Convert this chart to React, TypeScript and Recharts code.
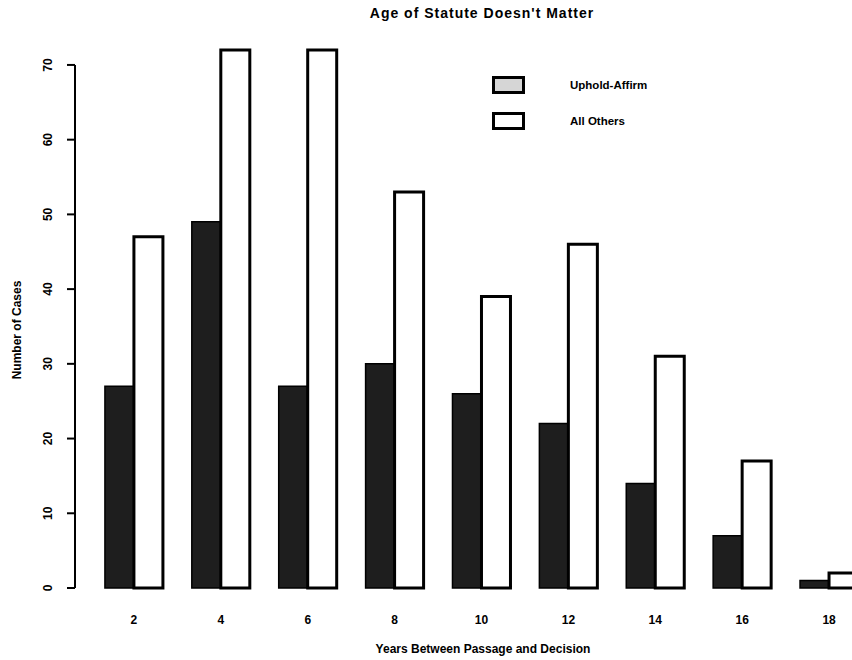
import React from 'react';
import { BarChart, Bar, XAxis, YAxis, Legend, ReferenceLine } from 'recharts';

const years = ['2', '4', '6', '8', '10', '12', '14', '16', '18'];
const upholdAffirm = [27, 49, 27, 30, 26, 22, 14, 7, 1];
const allOthers = [47, 72, 72, 53, 39, 46, 31, 17, 2];
const yTicks = [0, 10, 20, 30, 40, 50, 60, 70];
const seriesNames = ['Uphold-Affirm', 'All Others'];
const titleText = "Age of Statute Doesn't Matter";
const xTitle = 'Years Between Passage and Decision';
const yTitle = 'Number of Cases';

const data = years.map((y, i) => ({ year: y, uphold: upholdAffirm[i], others: allOthers[i] }));

const FONT = '"Liberation Sans", Arial, Helvetica, sans-serif';

const YTick = (props: any) => {
  const { x, y, payload } = props;
  return (
    <g>
      <line x1={x} x2={x + 8} y1={y} y2={y} stroke="#000" strokeWidth={2} />
      <text
        x={48}
        y={y}
        transform={`rotate(-90, 48, ${y})`}
        textAnchor="middle"
        dominantBaseline="central"
        fontFamily={FONT}
        fontWeight="bold"
        fontSize={12}
        fill="#000"
      >
        {payload.value}
      </text>
    </g>
  );
};

const XTick = (props: any) => {
  const { x, payload } = props;
  return (
    <text x={x} y={624} textAnchor="middle" fontFamily={FONT} fontWeight="bold" fontSize={12} fill="#000">
      {payload.value}
    </text>
  );
};

const LegendBox = () => (
  <svg width={200} height={60} style={{ display: 'block' }}>
    <rect x={1.5} y={1.5} width={30} height={15} fill="#d6d6d6" stroke="#000" strokeWidth={3} />
    <text x={78} y={9} dominantBaseline="central" fontFamily={FONT} fontWeight="bold" fontSize={11.5} fill="#000">
      {seriesNames[0]}
    </text>
    <rect x={1.5} y={37.5} width={30} height={15} fill="#fff" stroke="#000" strokeWidth={3} />
    <text x={78} y={45} dominantBaseline="central" fontFamily={FONT} fontWeight="bold" fontSize={11.5} fill="#000">
      {seriesNames[1]}
    </text>
  </svg>
);

export default function App() {
  return (
    <div style={{ position: 'absolute', left: 0, top: 0, width: 852, height: 660, overflow: 'hidden', background: '#fff' }}>
      <div
        style={{
          position: 'absolute',
          left: 0,
          top: 5,
          width: 964,
          textAlign: 'center',
          fontFamily: FONT,
          fontWeight: 'bold',
          fontSize: 14,
          letterSpacing: 1,
          color: '#000',
          lineHeight: '16px',
        }}
      >
        {titleText}
      </div>
      <div style={{ position: 'absolute', left: 0, top: 0 }}>
        <BarChart
          width={880}
          height={660}
          data={data}
          margin={{ top: 50, right: 7.5, bottom: 0, left: 0 }}
          barCategoryGap="16.6%"
          barGap={0}
        >
          <XAxis
            dataKey="year"
            height={72}
            axisLine={false}
            tickLine={false}
            padding={{ left: 15.5, right: 0 }}
            tick={<XTick />}
            interval={0}
            label={{
              content: (p: any) => (
                <text
                  x={483}
                  y={653}
                  textAnchor="middle"
                  fontFamily={FONT}
                  fontWeight="bold"
                  fontSize={12}
                  fill="#000"
                >
                  {xTitle}
                </text>
              ),
            }}
          />
          <XAxis xAxisId="line" type="number" domain={[0, 1]} hide />
          <YAxis
            width={75}
            domain={[0, 72]}
            ticks={yTicks}
            axisLine={false}
            tickLine={false}
            tick={<YTick />}
            interval={0}
            label={{
              content: (p: any) => (
                <text
                  x={17}
                  y={330}
                  transform="rotate(-90, 17, 330)"
                  textAnchor="middle"
                  dominantBaseline="central"
                  fontFamily={FONT}
                  fontWeight="bold"
                  fontSize={12}
                  fill="#000"
                >
                  {yTitle}
                </text>
              ),
            }}
          />
          <ReferenceLine
            xAxisId="line"
            segment={[{ x: 0, y: 0 }, { x: 0, y: 70 }]}
            stroke="#000"
            strokeWidth={2}
          />
          <Legend
            layout="horizontal"
            verticalAlign="middle"
            align="center"
            content={<LegendBox />}
            wrapperStyle={{ position: 'absolute', left: 492, top: 76, width: 200, height: 60 }}
          />
          <Bar dataKey="uphold" name={seriesNames[0]} fill="#1e1e1e" stroke="#000" strokeWidth={1.5} isAnimationActive={false} />
          <Bar dataKey="others" name={seriesNames[1]} fill="#fff" stroke="#000" strokeWidth={3} isAnimationActive={false} />
        </BarChart>
      </div>
    </div>
  );
}
